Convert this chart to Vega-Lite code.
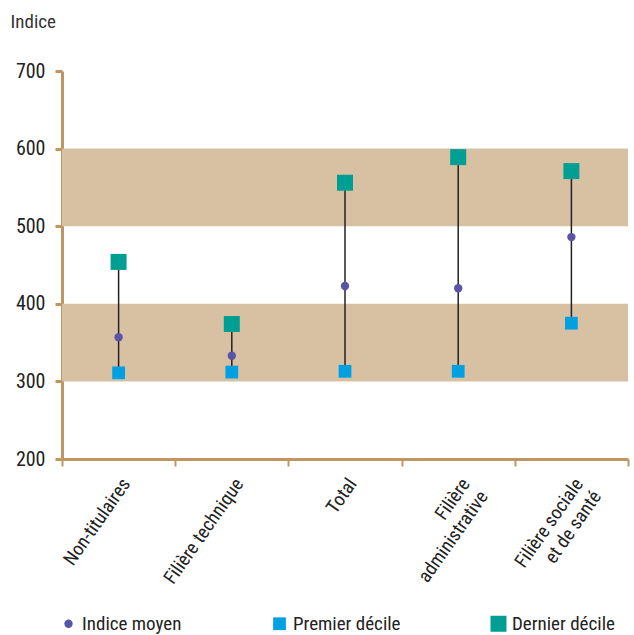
{
  "$schema": "https://vega.github.io/schema/vega-lite/v6.json",
  "width": 566,
  "height": 388,
  "autosize": "none",
  "padding": {"left": 62, "top": 71, "right": 6, "bottom": 176},
  "config": {
    "view": {"stroke": null},
    "font": "Liberation Sans Narrow, Roboto Condensed, Liberation Sans, sans-serif"
  },
  "datasets": {
    "stats": [
      {"cat": "Non-titulaires", "Indice moyen": 357, "Premier décile": 311, "Dernier décile": 454},
      {"cat": "Filière technique", "Indice moyen": 333, "Premier décile": 312, "Dernier décile": 374},
      {"cat": "Total", "Indice moyen": 423, "Premier décile": 313, "Dernier décile": 556},
      {"cat": "Filière administrative", "Indice moyen": 420, "Premier décile": 313, "Dernier décile": 589},
      {"cat": "Filière sociale et de santé", "Indice moyen": 486, "Premier décile": 375, "Dernier décile": 571}
    ],
    "bands": [
      {"lo": 300, "hi": 400},
      {"lo": 500, "hi": 600}
    ]
  },
  "layer": [
    {
      "data": {"name": "bands"},
      "mark": {"type": "rect", "color": "#d8c1a3"},
      "encoding": {
        "y": {"field": "lo", "type": "quantitative", "scale": {"domain": [200, 700]}},
        "y2": {"field": "hi"}
      }
    },
    {
      "data": {"name": "stats"},
      "mark": {"type": "rule", "color": "#222222", "strokeWidth": 1.5},
      "encoding": {
        "x": {"field": "cat", "type": "nominal", "sort": null},
        "y": {"field": "Premier décile", "type": "quantitative"},
        "y2": {"field": "Dernier décile"}
      }
    },
    {
      "data": {"name": "stats"},
      "transform": [
        {"fold": ["Indice moyen", "Premier décile", "Dernier décile"], "as": ["serie", "valeur"]}
      ],
      "mark": {"type": "point", "filled": true, "opacity": 1},
      "encoding": {
        "x": {
          "field": "cat", "type": "nominal", "sort": null,
          "scale": {"paddingInner": 0, "paddingOuter": 0},
          "axis": {
            "title": null,
            "tickBand": "extent",
            "domainColor": "#bf9660", "domainWidth": 3,
            "tickColor": "#bf9660", "tickWidth": 2, "tickSize": 7,
            "labelAngle": -55, "labelAlign": "right", "labelBaseline": "middle",
            "labelFontSize": 19, "labelColor": "#222222", "labelPadding": 14, "labelOffset": 7,
            "labelLineHeight": 22,
            "labelExpr": "datum.value == 'Filière administrative' ? ['Filière', 'administrative'] : datum.value == 'Filière sociale et de santé' ? ['Filière sociale', 'et de santé'] : datum.value"
          }
        },
        "y": {
          "field": "valeur", "type": "quantitative",
          "scale": {"domain": [200, 700]},
          "axis": {
            "values": [200, 300, 400, 500, 600, 700],
            "grid": false,
            "domainColor": "#bf9660", "domainWidth": 3,
            "tickColor": "#bf9660", "tickWidth": 3, "tickSize": 7,
            "labelFontSize": 20, "labelColor": "#222222", "labelPadding": 10,
            "title": "Indice", "titleAngle": 0, "titleAlign": "left", "titleBaseline": "alphabetic",
            "titleX": -52, "titleY": -44, "titleFontSize": 19, "titleFontWeight": "normal", "titleColor": "#333333"
          }
        },
        "color": {
          "field": "serie", "type": "nominal",
          "scale": {"domain": ["Indice moyen", "Premier décile", "Dernier décile"], "range": ["#5b53a6", "#00a0e3", "#009e93"]},
          "legend": {
            "title": null, "orient": "none", "legendX": -3, "legendY": 543,
            "direction": "horizontal", "columns": 3, "columnPadding": 88,
            "labelFontSize": 19, "labelColor": "#222222", "labelOffset": 4
          }
        },
        "shape": {
          "field": "serie", "type": "nominal",
          "scale": {"domain": ["Indice moyen", "Premier décile", "Dernier décile"], "range": ["circle", "square", "square"]}
        },
        "size": {
          "field": "serie", "type": "nominal",
          "scale": {"domain": ["Indice moyen", "Premier décile", "Dernier décile"], "range": [70, 256, 256]}
        }
      }
    }
  ]
}
